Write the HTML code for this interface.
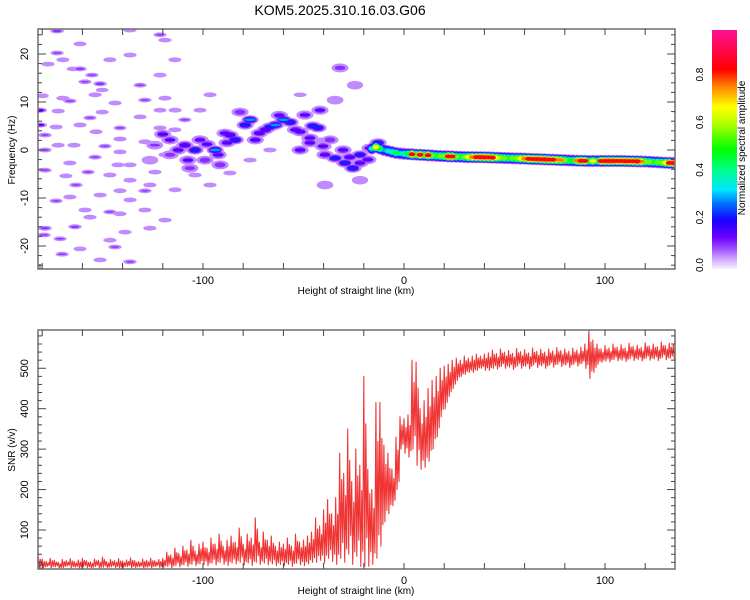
<!DOCTYPE html>
<html><head><meta charset="utf-8">
<style>
html,body{margin:0;padding:0;background:#fff;}
svg{display:block;font-family:"Liberation Sans",sans-serif;}
</style></head>
<body>
<svg id="chart" width="750" height="600" viewBox="0 0 750 600" xmlns="http://www.w3.org/2000/svg">
<text x="340" y="15" font-size="14" text-anchor="middle" fill="#000">KOM5.2025.310.16.03.G06</text>
<g id="spec"></g>
<g id="snr"></g>
<g id="cbar"></g>
</svg>
<script>
// ---- spectrogram data ----
const noiseKm=[-172.6,-161.2,-172.6,-169.7,-161.2,-177.1,-155.2,-164.7,-151.2,-180,-153.7,-166.2,-150.2,-169.7,-172.1,-156.2,-150.2,-173.1,-178.6,-141.3,-172.1,-148.8,-164.2,-141.3,-153.7,-166.2,-142.3,-157.2,-168.2,-146.3,-163.2,-136.3,-141.3,-128.9,-151.2,-166.2,-173.1,-136.3,-128.9,-146.3,-156.2,-163.7,-178.6,-138.8,-171.1,-161.2,-143.8,-151.2,-170.1,-136.3,-179.1,-141.3,-126.4,-123.9,-141.3,-121.4,-131.3,-128.9,-118.9,-113.9,-131.3,-146.3,-136.3,-121.4,-118.9,-121.4,-136.3,-128.9,-118.9,-113.9,-118.9,-126.4,-146.3,-158.7,-178.6,-178.6,-136.3,-153.2,-161.2,-158.7,-143.8,-121.4,-109,-101.5,-96.5,-114,-104,-96.5,-86.6,-114,-76.6,-66.7,-51.7,-41.8,-181,-181];
const noiseHz=[24.8,22.1,20.2,18.8,16.9,17.9,15.6,16.9,13.8,11.3,11.5,10.2,12.5,10.8,8.1,6.7,7.9,4.8,3.1,2.3,1.0,0.8,1.0,-0.4,-1.5,-2.7,-3.1,-4.6,-5.4,-5.2,-7.3,-6.3,-8.5,-8.5,-9.4,-9.8,-10.6,-10.4,-12.5,-12.9,-14,-16,-16.3,-17.1,-18.5,-20.6,-20.2,-22.9,-21.7,-23.3,-17.7,-13.3,-7.3,-4.6,4.6,4.6,6.9,10.4,10.8,8.3,13.5,18.8,19.8,15.6,22.9,24,25,1.7,-1.0,-8.3,-14.6,-16.3,-18.8,-12.5,0,-4.2,-3.1,3.8,5.2,14.2,9.8,8.3,6.3,8.3,11.5,18.8,-5.2,-7.3,-4.8,4.2,-2.1,0,11.5,2.1,8.3,5.2];
const noiseAmp=[0.12,0.07,0.08,0.07,0.1,0.07,0.08,0.06,0.12,0.07,0.07,0.08,0.06,0.07,0.07,0.08,0.07,0.07,0.08,0.07,0.07,0.08,0.07,0.07,0.08,0.07,0.07,0.08,0.07,0.07,0.08,0.07,0.07,0.08,0.07,0.07,0.08,0.07,0.07,0.08,0.07,0.1,0.1,0.07,0.08,0.07,0.08,0.07,0.08,0.09,0.08,0.07,0.07,0.07,0.08,0.07,0.07,0.08,0.07,0.07,0.08,0.07,0.07,0.07,0.07,0.08,0.07,0.07,0.07,0.07,0.07,0.07,0.07,0.07,0.08,0.08,0.07,0.07,0.07,0.08,0.07,0.07,0.08,0.07,0.07,0.07,0.07,0.07,0.07,0.07,0.07,0.07,0.06,0.07,0.16,0.16];
const clusterKm=[-120,-116.4,-109,-104,-94,-92.5,-86.6,-84,-79,-76.6,-69,-66.7,-64,-60,-56.7,-51.7,-46.8,-45.3,-49.3,-41.8,-42.8,-51.7,-46.8,-39.3,-34.3,-29.4,-25.4,-30.3,-21.9,-21.9,-16.9,-12.9,-9.5,-74,-81.6,-89,-101.5,-112.4,-107.5,-99,-91.5,-106.5,-116.4,-124,-126.4,-34.3,-31.8,-24.4,-40.3,-36.8,-21.9,-39.3,-98,-88,-72,-62,-54,-27,-18];
const clusterHz=[3.3,2.1,1.0,0,0,-1.0,3.1,2.1,5.2,6.3,4.2,4.8,5.2,6.3,5.8,3.8,2.5,5.0,7.3,8.3,4.6,0,1.5,-1.0,-1.7,-2.7,-3.8,0,-1.0,-2.7,0.4,1.5,0,2.1,7.9,3.5,2.1,0,-2.1,-2.1,-3.1,-3.8,-1.0,1.0,-2.1,10.4,17.1,13.5,0.8,2.1,-6.3,-7.3,1.2,1.5,3.5,7.2,4.2,-1.5,-2.0];
const clusterAmp=[0.15,0.13,0.18,0.25,0.32,0.15,0.18,0.25,0.2,0.32,0.18,0.2,0.3,0.3,0.25,0.15,0.15,0.2,0.13,0.13,0.22,0.15,0.15,0.15,0.2,0.2,0.22,0.15,0.2,0.15,0.15,0.2,0.25,0.15,0.12,0.15,0.13,0.15,0.13,0.12,0.12,0.1,0.1,0.08,0.07,0.07,0.1,0.06,0.14,0.12,0.06,0.07,0.14,0.15,0.16,0.14,0.15,0.16,0.15];
const ridgeKm=[-16,-14,-12,-10,-8,-6,-4,-2,0,2,4,6,8,10,12,14,16,18,20,22,24,26,28,30,32,34,36,38,40,42,44,46,48,50,52,54,56,58,60,62,64,66,68,70,72,74,76,78,80,82,84,86,88,90,92,94,96,98,100,102,104,106,108,110,112,114,116,118,120,122,124,126,128,130,132,134];
const ridgeHz=[0.3,0.6,0.3,0.0,-0.2,-0.4,-0.6,-0.7,-0.8,-0.85,-0.9,-0.95,-1.0,-1.05,-1.1,-1.15,-1.2,-1.25,-1.3,-1.33,-1.36,-1.39,-1.42,-1.45,-1.47,-1.48,-1.49,-1.5,-1.52,-1.55,-1.58,-1.6,-1.63,-1.66,-1.69,-1.72,-1.74,-1.77,-1.8,-1.83,-1.87,-1.9,-1.93,-1.96,-2.0,-2.03,-2.06,-2.1,-2.13,-2.16,-2.19,-2.22,-2.25,-2.28,-2.3,-2.3,-2.3,-2.3,-2.3,-2.3,-2.3,-2.3,-2.3,-2.32,-2.34,-2.36,-2.38,-2.4,-2.42,-2.45,-2.5,-2.55,-2.6,-2.64,-2.68,-2.7];
const ridgeAmp=[0.35,0.7,0.45,0.3,0.35,0.4,0.45,0.35,0.4,0.5,0.85,0.6,0.85,0.6,0.85,0.55,0.5,0.55,0.6,0.85,0.85,0.55,0.5,0.55,0.7,0.8,0.85,0.9,0.9,0.85,0.85,0.7,0.6,0.55,0.5,0.55,0.6,0.7,0.75,0.85,0.85,0.9,0.9,0.9,0.85,0.85,0.8,0.75,0.6,0.5,0.5,0.75,0.9,0.85,0.5,0.65,0.5,0.85,0.9,0.9,0.9,0.85,0.85,0.9,0.85,0.85,0.9,0.8,0.6,0.55,0.5,0.55,0.55,0.7,0.9,0.9];
const specXTicks=[-100,0,100];
const specYTicks=[-20,-10,0,10,20];
const cbarTicks=[0.0,0.2,0.4,0.6,0.8];
// ---- SNR data (2 km bins, envelope of noisy trace) ----
const snrKm0=-182, snrStep=2;
const snrHi=[35,28,22,30,25,20,27,24,29,22,26,30,24,21,28,25,33,22,27,24,29,23,26,31,24,22,28,25,30,24,27,
30,45,38,55,42,60,50,75,48,65,
70,55,80,65,90,60,75,85,70,105,65,90,80,130,70,95,75,85,60,70,
65,80,60,90,70,75,85,95,
130,110,150,175,140,
180,290,240,350,220,300,260,
480,250,200,415,415,
310,290,250,330,
380,375,385,520,
515,400,420,450,470,
480,500,505,510,520,
525,520,530,525,530,535,530,535,
538,545,536,548,540,544,537,549,541,546,538,550,542,547,540,548,543,551,544,548,542,550,545,552,
560,595,570,560,
548,556,550,560,552,558,550,562,554,557,551,563,555,560,553,565,556,562,558];
const snrLo=[8,5,10,6,9,5,7,11,6,8,5,9,7,6,10,5,8,6,9,7,5,8,10,6,7,9,5,8,6,10,7,
8,10,6,12,9,14,10,15,12,16,
15,12,18,14,20,15,12,18,16,20,14,18,12,20,15,18,14,16,12,15,
12,15,10,18,14,12,16,20,
20,25,18,30,22,
15,30,20,40,15,35,10,
10,10,15,30,60,
120,140,160,200,
300,290,280,300,
260,250,255,270,300,
330,380,400,430,450,
470,480,485,490,490,495,500,495,
495,500,498,505,500,503,497,506,500,505,499,508,502,506,500,508,503,510,504,508,502,510,505,512,
500,475,490,510,
515,518,516,522,518,520,517,524,519,522,518,525,520,523,519,527,521,525,522];
const snrYTicks=[100,200,300,400,500];

const NS="http://www.w3.org/2000/svg";
function mk(tag,attrs,parent){const e=document.createElementNS(NS,tag);for(const k in attrs)e.setAttribute(k,attrs[k]);parent.appendChild(e);return e;}

const L=38,R=675,T1=29,B1=269,T2=330,B2=569;
const xS=km=>404+km*2.01;
const yF=hz=>150-hz*4.8;
const ySNR=v=>569-(v-3.5)*0.4043;

const stops=[[0,[240,232,255]],[0.03,[216,180,255]],[0.08,[157,77,255]],[0.13,[106,0,255]],[0.2,[24,0,255]],[0.27,[0,112,255]],[0.33,[0,232,255]],[0.42,[0,255,128]],[0.5,[0,255,0]],[0.62,[192,255,0]],[0.68,[255,255,0]],[0.76,[255,144,0]],[0.84,[255,0,0]],[1,[255,16,144]]];
function cmap(v){for(let i=1;i<stops.length;i++){if(v<=stops[i][0]){const a=stops[i-1],b=stops[i];const t=(v-a[0])/(b[0]-a[0]);const c=a[1].map((x,j)=>Math.round(x+(b[1][j]-x)*t));return `rgb(${c[0]},${c[1]},${c[2]})`;}}return 'rgb(255,16,144)';}

const spec=document.getElementById('spec');
const defs=mk('defs',{},spec);
const cp=mk('clipPath',{id:'clipSpec'},defs);
mk('rect',{x:L,y:T1,width:R-L,height:B1-T1},cp);
const blobG=mk('g',{'clip-path':'url(#clipSpec)'},spec);


const levels=[0.03,0.08,0.13,0.2,0.27,0.35,0.45,0.55,0.65,0.75,0.85];
const blobs=[];
noiseKm.forEach((k,i)=>blobs.push({k:k,h:noiseHz[i],a:noiseAmp[i],w:3.6,hh:0.55,p:0.5}));
clusterKm.forEach((k,i)=>blobs.push({k:k,h:clusterHz[i],a:clusterAmp[i],w:4.5,hh:1.0,p:0.45}));
ridgeKm.forEach((k,i)=>blobs.push({k:k,h:ridgeHz[i],a:ridgeAmp[i],w:2.8,hh:1.3,p:0.3}));
levels.forEach(lv=>{
  blobs.forEach(b=>{
    if(b.a<lv) return;
    const s=Math.max(Math.pow(Math.log(b.a/lv)/Math.log(b.a/0.025),b.p),0.3);
    const e=mk('ellipse',{cx:xS(b.k).toFixed(1),cy:yF(b.h).toFixed(1),rx:(b.w*2.01*Math.max(s,0.6)).toFixed(1),ry:(b.hh*4.8*s).toFixed(1),fill:cmap(lv+0.02)},blobG);
    
    
  });
});

function frame(g,top,bot,name){
  const f=mk('rect',{x:L,y:top,width:R-L,height:bot-top,fill:'none',stroke:'#777','stroke-width':1.6},g);
  
  
}
function xTicks(g,top,bot){
  for(let km=-180;km<=135;km+=20){
    const x=xS(km);
    mk('line',{x1:x,x2:x,y1:bot,y2:bot-6,stroke:'#444','stroke-width':1},g);
    mk('line',{x1:x,x2:x,y1:top,y2:top+6,stroke:'#444','stroke-width':1},g);
  }
  mk('line',{x1:L+2,x2:L+2,y1:bot,y2:bot-5,stroke:'#444'},g);
}
frame(spec,T1,B1,'spectrogram-frame');
xTicks(spec,T1,B1);
for(let hz=-24;hz<=24;hz+=2){
  const y=yF(hz),len=hz%10===0?8:4;
  mk('line',{x1:L,x2:L+len,y1:y,y2:y,stroke:'#444'},spec);
  mk('line',{x1:R,x2:R-len,y1:y,y2:y,stroke:'#444'},spec);
}
specXTicks.forEach(v=>{const t=mk('text',{x:xS(v),y:284,'font-size':11,'text-anchor':'middle'},spec);t.textContent=v;

});
specYTicks.forEach(v=>{const t=mk('text',{x:0,y:0,'font-size':11,'text-anchor':'middle',transform:`translate(28,${yF(v)}) rotate(-90)`},spec);t.textContent=v;

});
let t=mk('text',{x:356,y:294,'font-size':10,'text-anchor':'middle'},spec);t.textContent='Height of straight line (km)';


t=mk('text',{x:0,y:0,'font-size':10,'text-anchor':'middle',transform:'translate(15,150) rotate(-90)'},spec);t.textContent='Frequency (Hz)';



const cb=document.getElementById('cbar');
const CT=30,CB=268,CL=712,CW=25;
for(let i=0;i<119;i++){
  const v=i/118;
  mk('rect',{x:CL,y:(CB-(i+1)*(CB-CT)/119).toFixed(2),width:CW,height:((CB-CT)/119+0.6).toFixed(2),fill:cmap(v)},cb);
}
cbarTicks.forEach(v=>{const y=CB-v*(CB-CT)/1.0;const tt=mk('text',{x:0,y:0,'font-size':10,'text-anchor':'middle',transform:`translate(703,${y-3}) rotate(-90)`},cb);tt.textContent=v.toFixed(1);

});
t=mk('text',{x:0,y:0,'font-size':10,'text-anchor':'middle',transform:'translate(745,148) rotate(-90)'},cb);t.textContent='Normalized spectral amplitude';



const snr=document.getElementById('snr');
let pts=[];
snrHi.forEach((hi,i)=>{
  const lo=snrLo[i];const k=snrKm0+i*snrStep;
  pts.push([k,hi],[k+0.5,lo],[k+1,hi*0.75+lo*0.25],[k+1.5,lo*0.85+hi*0.15]);
});
const p=mk('polyline',{points:pts.filter(q=>q[0]<=135).map(q=>xS(q[0]).toFixed(1)+','+ySNR(q[1]).toFixed(1)).join(' '),fill:'none',stroke:'#f03535','stroke-width':1.1,'stroke-linejoin':'round'},snr);


frame(snr,T2,B2,'snr-frame');
xTicks(snr,T2,B2);
for(let v=20;v<=580;v+=20){
  const y=ySNR(v),len=v%100===0?8:4;
  mk('line',{x1:L,x2:L+len,y1:y,y2:y,stroke:'#444'},snr);
  mk('line',{x1:R,x2:R-len,y1:y,y2:y,stroke:'#444'},snr);
}
specXTicks.forEach(v=>{const tt=mk('text',{x:xS(v),y:584,'font-size':11,'text-anchor':'middle'},snr);tt.textContent=v;

});
snrYTicks.forEach(v=>{const tt=mk('text',{x:0,y:0,'font-size':11,'text-anchor':'middle',transform:`translate(28,${ySNR(v)}) rotate(-90)`},snr);tt.textContent=v;

});
t=mk('text',{x:356,y:594,'font-size':10,'text-anchor':'middle'},snr);t.textContent='Height of straight line (km)';


t=mk('text',{x:0,y:0,'font-size':10,'text-anchor':'middle',transform:'translate(15,450) rotate(-90)'},snr);t.textContent='SNR (v/v)';


</script>
</body></html>
